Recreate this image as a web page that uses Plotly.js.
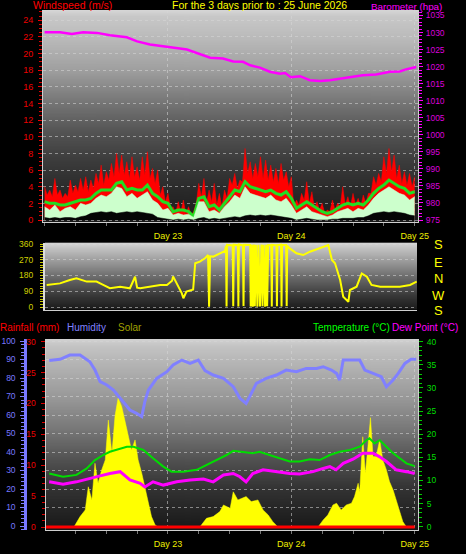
<!DOCTYPE html>
<html><head><meta charset="utf-8">
<script src="https://cdn.plot.ly/plotly-3.0.1.min.js"></script>
<style>html,body{margin:0;padding:0;background:#000;}#chart{width:466px;height:554px;}</style>
</head><body><div id="chart"></div>
<script>
// ---------------- DATA (hours since start of Day 22) ----------------
const dayTickHours = [24, 48, 72];
const dayTickLabels = ["Day 23", "Day 24", "Day 25"];
const sixHourTicks = [0, 6, 12, 18, 24, 30, 36, 42, 48, 54, 60, 66, 72];

// gusts, every half hour (peaks and troughs)
const gustHours = [0,0.5,1,1.5,2,2.5,3,3.5,4,4.5,5,5.5,6,6.5,7,7.5,8,8.5,9,9.5,10,10.5,11,11.5,12,12.5,13,13.5,14,14.5,15,15.5,16,16.5,17,17.5,18,18.5,19,19.5,20,20.5,21,21.5,22,22.5,23,23.5,24,24.5,25,25.5,26,26.5,27,27.5,28,28.5,29,29.5,30,30.5,31,31.5,32,32.5,33,33.5,34,34.5,35,35.5,36,36.5,37,37.5,38,38.5,39,39.5,40,40.5,41,41.5,42,42.5,43,43.5,44,44.5,45,45.5,46,46.5,47,47.5,48,48.5,49,49.5,50,50.5,51,51.5,52,52.5,53,53.5,54,54.5,55,55.5,56,56.5,57,57.5,58,58.5,59,59.5,60,60.5,61,61.5,62,62.5,63,63.5,64,64.5,65,65.5,66,66.5,67,67.5,68,68.5,69,69.5,70,70.5,71,71.5,72];
const windGust = [4.0,3.0,3.6,2.8,5.0,3.0,3.6,2.6,3.2,2.8, 4.8,3.2,4.2,3.4,5.0,3.6,5.2,3.4,4.8,3.8, 5.6,4.4,6.6,4.2,5.8,4.8,6.8,5.2,8.0,5.6, 7.8,5.4,7.0,5.0,7.6,5.2,6.4,4.8,7.6,5.4, 8.2,5.0,6.2,4.4,6.0,3.0,4.0,2.2,3.2,1.4, 1.6,0.8,2.2,0.9,2.4,0.7,1.6,0.6,1.0,2.0, 4.4,2.8,5.0,2.0,3.6,2.2,4.4,1.8,3.2,1.6, 3.6,2.6,5.0,4.2,5.6,3.8,4.8,4.6,8.6,5.6, 7.0,5.0,6.8,5.2,7.6,5.0,7.2,4.8,6.6,4.6, 6.2,4.4,6.8,4.8,5.8,4.0,5.2,1.6,2.4,1.8, 3.2,2.4,4.6,2.0,3.4,1.4,2.2,1.2,2.0,0.8, 1.2,1.0,2.4,1.2,2.0,1.6,4.0,1.8,2.8,1.6, 3.2,1.8,2.6,1.6,3.0,2.0,3.2,3.2,5.2,4.2, 5.6,4.6,7.6,5.6,8.6,5.8,7.8,5.0,6.6,4.4, 5.8,4.2,5.6,4.0,5.2];

const windHours = [0,1,2,3,4,5,6,7,8,9,10,11,12,13,14,15,16,17,18,19,20,21,22,23,24,25,26,27,28,29,30,31,32,33,34,35,36,37,38,39,40,41,42,43,44,45,46,47,48,49,50,51,52,53,54,55,56,57,58,59,60,61,62,63,64,65,66,67,68,69,70,71,72];
const windAvg = [2.2,2.0,2.0,1.8,1.8,2.0,2.2,2.4,2.4,2.6, 3.2,3.6,3.6,3.6,4.4,4.6,3.6,3.8,3.6,3.6, 4.2,3.2,2.8,2.2,2.0,1.0,1.2,1.2,1.0,0.4, 2.6,2.8,1.6,1.8,1.2,2.0,2.8,3.6,3.4,4.6, 4.0,3.8,3.6,3.4,3.6,3.2,3.0,3.4,2.6,1.4, 1.8,2.2,1.8,1.4,1.0,0.8,1.0,1.4,1.8,2.0, 1.8,2.0,1.8,2.4,3.2,3.8,4.2,4.8,4.4,4.0, 3.8,3.2,3.4];
const windSpeed = [1.6,1.2,1.8,1.0,1.4,1.6,1.2,2.0,1.8,2.0, 2.6,3.0,2.8,3.2,4.0,3.8,2.8,3.2,2.6,3.0, 3.4,2.4,2.0,1.2,1.4,0.6,0.8,0.6,0.7,0.3, 2.2,2.2,1.0,1.2,0.8,1.6,2.2,3.0,2.6,4.0, 3.2,3.0,2.8,2.6,3.0,2.4,2.2,2.6,1.8,0.8, 1.2,1.6,1.0,0.8,0.6,0.4,0.6,1.0,1.2,1.4, 1.0,1.4,1.2,1.8,2.6,3.2,3.6,4.0,3.6,3.2, 3.0,2.4,2.8];
const windLull = [0.3,0.2,0.3,0.2,0.3,0.3,0.2,0.4,0.5,0.8, 0.9,1.0,0.9,1.0,0.8,0.9,1.0,0.9,1.0,0.9, 0.8,0.7,0.3,0.2,0.1,0.0,0.1,0.0,0.1,0.0, 0.2,0.3,0.1,0.2,0.1,0.2,0.3,0.4,0.3,0.5, 0.6,0.5,0.6,0.5,0.6,0.5,0.4,0.3,0.2,0.0, 0.1,0.2,0.1,0.0,0.0,0.0,0.1,0.1,0.2,0.2, 0.2,0.3,0.3,0.5,0.8,0.9,1.0,0.9,1.0,0.9, 0.8,0.6,0.5];

const baroHours = [0,3.0,5.3,7.5,10.2,12.7,16.0,18.0,20.5,23.8,26.3,27.7,30.2,32.2,34.7,36.7,38.6,40.0,41.9,43.8,45.8,46.8,47.9,49.7,51.6,53.6,55.5,57.5,59.4,61.9,64.5,67.2,69.1,70.3,72.3];
const baroHpa = [1030.1,1030.1,1029.6,1030.1,1029.9,1029.2,1028.6,1027.4,1026.5,1025.7,1025.3,1025.0,1023.6,1022.6,1022.4,1021.5,1021.4,1020.4,1019.7,1018.5,1017.9,1018.1,1016.9,1017.2,1016.0,1015.8,1016.0,1016.5,1016.9,1017.5,1017.7,1018.5,1018.6,1019.2,1019.9];

const dirHours = [0.4,3.0,4.9,6.2,8.2,10.1,11.4,12.7,14.7,16.6,17.6,18.0,18.6,20.5,22.5,23.8,24.8,25.0,25.7,26.7,27.0,27.6,28.6,28.9,29.3,30.2,31.2,31.8,32.0,32.2,32.8,34.1,35.1,35.3,
  35.4,35.5,36.6,36.7,36.8,37.6,37.7,37.8,38.6,38.7,38.8,40.0,40.1,40.3,40.5,40.7,40.9,41.1,41.4,41.6,41.9,42.2,42.4,42.6,42.9,43.1,43.3,43.5,44.1,44.2,44.3,45.1,45.2,45.3,46.0,46.1,46.2,47.0,47.1,47.2,
  47.7,49.0,50.3,51.6,53.6,55.2,55.9,56.5,57.5,58.1,59.1,59.4,60.7,61.7,62.7,63.6,65.3,67.2,69.1,71.1,72.4];
const dirDeg = [126,135,154,164,145,145,126,107,116,107,173,110,107,116,126,126,150,175,135,78,50,88,97,100,250,259,278,297,2,290,288,307,320,350,
  3,355,352,4,356,353,3,357,352,5,355,354,3,356,2,357,4,355,2,356,3,357,4,355,2,356,4,354,353,3,355,352,4,354,356,3,355,354,5,350,
  335,307,297,316,335,354,269,250,154,59,30,97,116,192,173,126,116,116,116,126,145];

const humHours = [0.9,3.0,4.9,6.9,8.8,9.8,10.8,12.1,13.4,14.7,15.7,16.6,17.9,18.9,19.5,20.2,21.8,23.8,25.0,26.7,28.3,29.9,31.2,32.8,34.8,36.7,38.0,39.2,39.9,41.2,43.1,45.1,47.0,49.0,50.9,52.9,54.2,55.8,56.8,57.4,58.1,59.4,61.3,62.3,63.9,65.5,66.5,67.8,68.8,70.1,71.3,72.3];
const humidity = [89.4,90.1,92.4,92.4,88.8,84.3,78.0,76.2,73.5,69.0,65.4,62.7,60.9,59.1,67.2,73.5,79.8,83.4,87.0,89.7,87.9,89.7,84.0,81.6,79.8,75.3,69.0,66.3,69.9,77.1,79.8,81.6,84.3,83.4,85.2,85.2,86.1,84.3,82.5,78.9,89.7,89.7,89.7,84.3,82.5,80.7,75.3,78.9,82.5,87.9,90.1,90.1];

const tempHours = [0.9,3.6,6.2,8.2,9.8,11.4,12.7,14.0,16.0,17.3,19.2,21.1,23.1,24.7,27.0,29.6,31.5,33.5,35.4,36.7,38.6,40.5,41.8,43.8,45.7,47.7,49.6,51.6,53.5,55.5,57.4,59.4,61.3,62.6,63.2,64.2,65.2,66.5,67.8,69.1,70.4,72.0];
const temperature = [11.5,10.8,11.2,12.6,14.4,15.5,16.2,16.6,17.3,17.3,16.6,14.8,13.0,11.9,11.9,12.3,13.3,14.4,15.5,16.4,16.2,15.9,16.2,15.5,14.8,14.1,14.1,14.6,14.4,15.5,16.2,16.6,17.3,18.7,19.1,18.0,18.7,17.3,15.9,14.8,13.7,13.1];

const dewHours = [0.9,3.6,6.2,8.8,10.8,12.7,14.7,16.6,18.6,19.5,21.1,23.1,25.7,28.3,30.9,32.8,34.8,36.7,38.0,39.2,40.5,42.5,45.1,47.7,49.6,52.2,54.2,55.5,56.7,58.1,60.0,61.9,63.9,65.2,66.5,68.4,70.4,72.0];
const dewPoint = [9.7,9.2,9.7,10.5,11.0,11.5,11.9,10.1,9.4,8.6,9.7,9.0,9.7,10.1,10.3,9.7,11.2,11.5,10.8,9.7,11.5,12.3,11.9,11.5,11.4,11.9,12.6,13.0,12.3,13.7,14.6,15.9,15.9,15.1,14.1,12.3,11.9,11.5];

const solarHours = [5.7,6.9,7.9,8.5,9.2,9.8,10.4,11.1,11.8,12.4,13.1,13.7,14.3,15.0,15.6,16.3,16.9,17.6,18.2,18.9,19.5,20.2,20.8,21.5,22.1,
  30.2,31.5,32.8,34.1,34.8,36.1,36.7,37.6,39.2,40.2,41.5,42.5,43.5,44.4,45.4,
  53.2,54.2,55.1,56.1,56.8,57.7,58.7,59.7,60.3,61.0,61.3,61.9,62.4,62.9,63.4,63.9,64.5,65.2,65.8,66.5,67.1,67.8,68.4,69.1,69.7,70.4];
const solar = [0,56,92,217,146,344,236,308,362,577,398,600,696,650,577,487,416,470,362,290,217,146,56,11,0,
  0,47,56,83,119,101,190,146,164,137,146,92,65,29,0,
  0,38,65,119,128,92,119,128,164,236,190,487,290,433,590,380,380,470,362,308,245,200,146,92,29,0];

const rainHours = [0, 72];
const rainfall = [0, 0];

// ---------------- LAYOUT HELPERS ----------------
const W = 466, H = 554;
const HX0 = 44.6, HPX = 5.14;              // hour -> pixel
function px(x) { return x / W; }
function py(y) { return 1 - y / H; }
function xr(a, b) { return [(a - HX0) / HPX, (b - HX0) / HPX]; }
function yr(v0, p0, v1, p1, top, bot) { const k = (v1 - v0) / (p1 - p0); return [v0 + (bot - p0) * k, v0 + (top - p0) * k]; }
function grad(stops) {
  const c = document.createElement('canvas'); c.width = 4; c.height = 512;
  const g = c.getContext('2d'); const lg = g.createLinearGradient(0, 0, 0, 512);
  stops.forEach(s => lg.addColorStop(s[0], 'rgb(' + s[1] + ',' + s[1] + ',' + s[1] + ')'));
  g.fillStyle = lg; g.fillRect(0, 0, 4, 512); return c.toDataURL();
}
function bgImage(l, r, t, b, stops) {
  return { source: grad(stops), xref: 'paper', yref: 'paper', x: px(l), y: py(t), sizex: px(r) - px(l), sizey: (b - t) / H,
    xanchor: 'left', yanchor: 'top', sizing: 'stretch', layer: 'below' };
}

const P1 = { l: 43, r: 418, t: 10, b: 222 };
const P2 = { l: 45, r: 417, t: 242.7, b: 309.5 };
const P3 = { l: 45.5, r: 418, t: 339, b: 530 };
const FONT = 'Liberation Sans, Arial, sans-serif';
const GRID = 'rgba(215,215,215,0.55)';
const FRAME = '#cfcfcf';

const traces = [
  { x: gustHours, y: windGust, xaxis: 'x', yaxis: 'y', type: 'scatter', mode: 'lines', fill: 'tozeroy', fillcolor: '#ff0000', line: { color: '#ff0000', width: 0.5 } },
  { x: windHours, y: windAvg, xaxis: 'x', yaxis: 'y', type: 'scatter', mode: 'lines', line: { color: '#22dd22', width: 3 } },
  { x: windHours, y: windSpeed, xaxis: 'x', yaxis: 'y', type: 'scatter', mode: 'lines', fill: 'tozeroy', fillcolor: '#ccffcc', line: { color: '#ccffcc', width: 0.5 } },
  { x: windHours, y: windLull, xaxis: 'x', yaxis: 'y', type: 'scatter', mode: 'lines', fill: 'tozeroy', fillcolor: '#050505', line: { color: '#050505', width: 0.5 } },
  { x: baroHours, y: baroHpa, xaxis: 'x', yaxis: 'y2', type: 'scatter', mode: 'lines', line: { color: '#ff00ff', width: 2.5 } },
  { x: dirHours, y: dirDeg, xaxis: 'x2', yaxis: 'y3', type: 'scatter', mode: 'lines', line: { color: '#ffff00', width: 2 } },
  { x: solarHours, y: solar, xaxis: 'x3', yaxis: 'y4', type: 'scatter', mode: 'lines', fill: 'tozeroy', fillcolor: '#ffff00', line: { color: '#ffff00', width: 0.5 } },
  { x: humHours, y: humidity, xaxis: 'x3', yaxis: 'y5', type: 'scatter', mode: 'lines', line: { color: '#8080ff', width: 3 } },
  { x: tempHours, y: temperature, xaxis: 'x3', yaxis: 'y6', type: 'scatter', mode: 'lines', line: { color: '#00dd00', width: 2 } },
  { x: dewHours, y: dewPoint, xaxis: 'x3', yaxis: 'y6', type: 'scatter', mode: 'lines', line: { color: '#ff00ff', width: 3 } },
  { x: rainHours, y: rainfall, xaxis: 'x3', yaxis: 'y7', type: 'scatter', mode: 'lines', line: { color: '#ff0000', width: 3 } }
];

function dayAxis(P, anchor, showLabels) {
  return {
    domain: [px(P.l), px(P.r)], range: xr(P.l, P.r), anchor: anchor,
    tickmode: 'array', tickvals: dayTickHours, ticktext: dayTickLabels, showticklabels: showLabels,
    tickfont: { family: FONT, size: 9, color: '#eeee00' }, ticks: showLabels ? 'outside' : '', ticklen: 3, tickcolor: '#777777',
    ticklabelstandoff: 2,
    minor: showLabels ? { tickmode: 'array', tickvals: sixHourTicks, ticks: 'outside', ticklen: 3, tickcolor: '#777777', showgrid: false } : undefined,
    showgrid: showLabels, gridcolor: GRID, griddash: 'dot', gridwidth: 1,
    showline: true, linecolor: FRAME, linewidth: 1, zeroline: false, fixedrange: true
  };
}

const layout = {
  width: W, height: H, margin: { l: 0, r: 0, t: 0, b: 0 },
  paper_bgcolor: '#000000', plot_bgcolor: 'rgba(0,0,0,0)', showlegend: false, hovermode: false,
  font: { family: FONT },
  xaxis: dayAxis(P1, 'y', true),
  yaxis: {
    domain: [py(P1.b), py(P1.t)], range: yr(0, 220, 24, 20.3, P1.t, P1.b), anchor: 'x',
    tickmode: 'linear', tick0: 0, dtick: 2, tickfont: { family: FONT, size: 9, color: '#ee0000' },
    ticks: 'outside', ticklen: 4, tickcolor: '#ee0000', ticklabelstandoff: 3,
    minor: { dtick: 0.5, ticks: 'outside', ticklen: 3, tickcolor: '#dd0000', showgrid: false },
    showgrid: true, gridcolor: GRID, griddash: 'dot', showline: true, linecolor: FRAME, zeroline: false
  },
  yaxis2: {
    overlaying: 'y', side: 'right', anchor: 'x', range: yr(975, 220, 1035, 15.5, P1.t, P1.b),
    tickmode: 'linear', tick0: 975, dtick: 5, tickfont: { family: FONT, size: 8.5, color: '#dd00dd' },
    ticks: 'outside', ticklen: 4, tickcolor: '#ff00ff', ticklabelstandoff: 1,
    minor: { dtick: 1, ticks: 'outside', ticklen: 3, tickcolor: '#ff00ff', showgrid: false },
    showgrid: false, showline: true, linecolor: FRAME, zeroline: false
  },
  xaxis2: dayAxis(P2, 'y3', false),
  yaxis3: {
    domain: [py(P2.b), py(P2.t)], range: yr(0, 307, 360, 244, P2.t, P2.b), anchor: 'x2',
    tickmode: 'array', tickvals: [0, 90, 180, 270, 360], tickfont: { family: FONT, size: 8.5, color: '#d0d000' },
    ticks: 'outside', ticklen: 3, tickcolor: '#d0d000', ticklabelstandoff: 5,
    minor: { tickmode: 'linear', tick0: 0, dtick: 15, ticks: 'outside', ticklen: 3, tickcolor: '#c8c800', showgrid: false },
    showgrid: true, gridcolor: GRID, griddash: 'dot', showline: true, linecolor: '#dddddd', linewidth: 2, zeroline: false
  },
  xaxis3: dayAxis(P3, 'y4', true),
  yaxis4: { domain: [py(P3.b), py(P3.t)], range: yr(0, 527, 1000, 341.7, P3.t, P3.b), anchor: 'x3', visible: false },
  yaxis5: {
    overlaying: 'y4', anchor: 'free', position: px(25.3), side: 'left', range: yr(0, 526, 100, 341, P3.t, P3.b),
    tickmode: 'linear', tick0: 0, dtick: 10, tickfont: { family: FONT, size: 8.5, color: '#7878ff' },
    ticks: 'outside', ticklen: 4, tickcolor: '#8080ff', ticklabelstandoff: 3,
    minor: { dtick: 2, ticks: 'outside', ticklen: 3, tickcolor: '#8080ff', showgrid: false },
    showgrid: true, gridcolor: GRID, griddash: 'dot', showline: true, linecolor: '#7878ff', linewidth: 2.5, zeroline: false
  },
  yaxis6: {
    overlaying: 'y4', side: 'right', anchor: 'x3', range: yr(0, 526.7, 40, 341.7, P3.t, P3.b),
    tickmode: 'linear', tick0: 0, dtick: 5, tickfont: { family: FONT, size: 8.5, color: '#00dd00' },
    ticks: 'outside', ticklen: 4, tickcolor: '#00cc00', ticklabelstandoff: 2,
    minor: { dtick: 1, ticks: 'outside', ticklen: 3, tickcolor: '#00cc00', showgrid: false },
    showgrid: false, showline: true, linecolor: FRAME, zeroline: false
  },
  yaxis7: {
    overlaying: 'y4', side: 'left', anchor: 'x3', range: yr(0, 527, 30, 341.7, P3.t, P3.b),
    tickmode: 'linear', tick0: 0, dtick: 5, tickfont: { family: FONT, size: 8.5, color: '#ee0000' },
    ticks: 'outside', ticklen: 4, tickcolor: '#dd0000', ticklabelstandoff: 3,
    minor: { dtick: 1, ticks: 'outside', ticklen: 3, tickcolor: '#dd0000', showgrid: false },
    showgrid: false, showline: true, linecolor: FRAME, zeroline: false
  },
  images: [
    bgImage(P1.l, P1.r, P1.t, P1.b, [[0, 215], [0.03, 200], [0.14, 185], [0.28, 160], [0.42, 122], [0.57, 85], [0.71, 60], [0.85, 42], [1, 26]]),
    bgImage(P2.l, P2.r, P2.t, P2.b, [[0, 215], [0.08, 195], [0.5, 110], [0.8, 55], [1, 26]]),
    bgImage(P3.l, P3.r, P3.t, P3.b, [[0, 210], [0.04, 195], [0.32, 150], [0.48, 118], [0.64, 80], [0.79, 50], [1, 24]])
  ],
  annotations: []
};

function label(text, x, y, color, size, anchor, yanchor) {
  layout.annotations.push({ text: text, xref: 'paper', yref: 'paper', x: px(x), y: py(y), xanchor: anchor || 'left', yanchor: yanchor || 'middle',
    showarrow: false, borderpad: 0, font: { family: FONT, size: size, color: color } });
}
label('Windspeed (m/s)', 32, 4.5, '#ff0000', 10.5);
label('For the 3 days prior to : 25 June 2026', 171, 4.5, '#ffff00', 10.5);
label('Barometer (hpa)', 370, 0, '#ff00ff', 9.8, 'left', 'top');
label('Rainfall (mm)', -1, 327, '#ff0000', 10);
label('Humidity', 66, 327, '#8080ff', 10);
label('Solar', 117, 327, '#a0a000', 10);
label('Temperature (°C)', 312, 327, '#00ff00', 10);
label('Dew Point (°C)', 391, 327, '#ff00ff', 10);
const compass = ['S', 'E', 'N', 'W', 'S'];
const compassY = [244.7, 262, 278.7, 295, 310.7];
compass.forEach((c, i) => label(c, 438, compassY[i], '#ffff00', 13, 'center'));

Plotly.newPlot('chart', traces, layout, { staticPlot: true, displayModeBar: false });
</script>
</body></html>
